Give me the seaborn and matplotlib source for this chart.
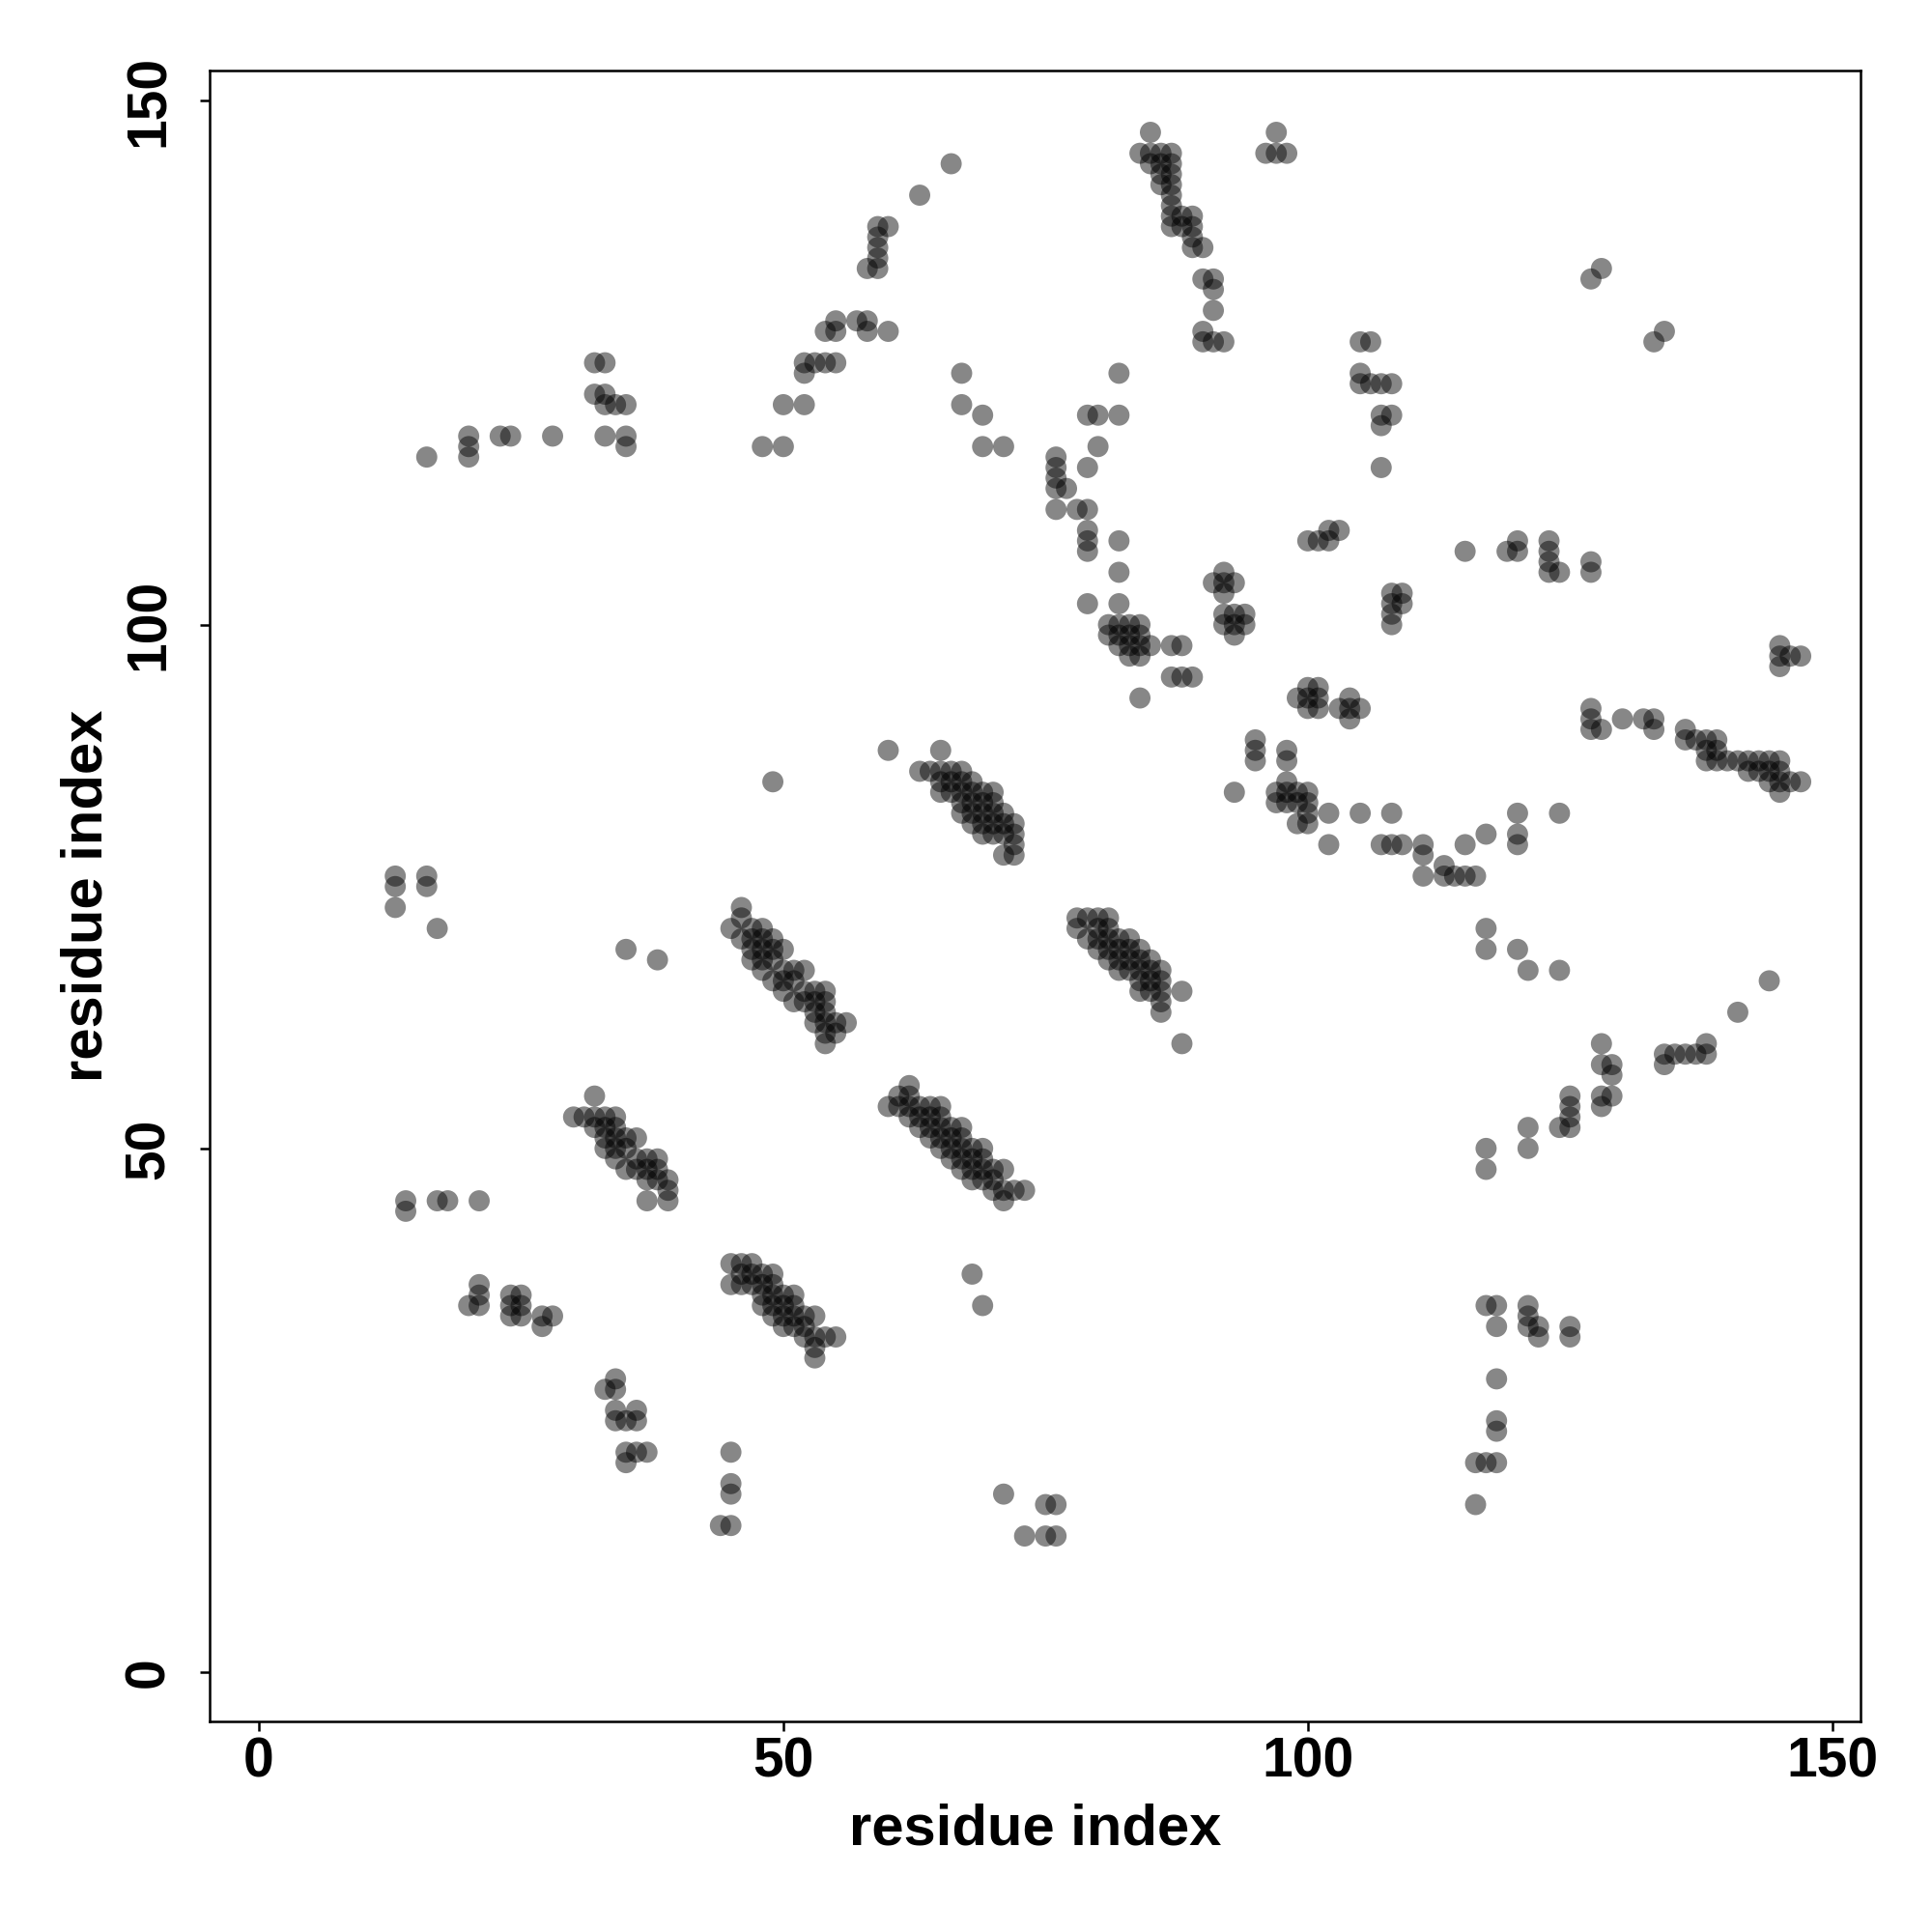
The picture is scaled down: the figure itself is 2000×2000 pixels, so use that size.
import pandas as pd
import seaborn as sns
from matplotlib import pyplot as plt

# contact pairs (residue i, residue j), grouped by region
left_pts = [(13, 76), (13, 75), (13, 73), (16, 76), (16, 75), (17, 71), (35, 69), (38, 68),
            (14, 45), (14, 44), (17, 45), (18, 45), (21, 45),
            (21, 37), (21, 36), (20, 35), (21, 35), (24, 36), (25, 36), (24, 35), (25, 35),
            (24, 34), (25, 34), (27, 34), (28, 34), (27, 33)]

lower_small = [(34, 28), (33, 27), (34, 27), (34, 25), (34, 24), (35, 24), (36, 25), (36, 24),
               (35, 21), (36, 21), (37, 21), (35, 20), (45, 21), (45, 18), (45, 17), (44, 14),
               (45, 14), (71, 17), (75, 16), (76, 16), (73, 13), (75, 13), (76, 13), (68, 38), (69, 35)]

upper_left = [(16, 116), (20, 118), (20, 117), (20, 116), (23, 118), (24, 118), (28, 118),
              (32, 125), (33, 125), (32, 122), (33, 122), (33, 121), (34, 121), (35, 121),
              (33, 118), (35, 118), (35, 117)]

upper_mid = [(48, 117), (50, 117), (50, 121), (52, 121), (52, 125), (53, 125), (54, 125), (55, 125),
             (52, 124), (54, 128), (55, 128), (55, 129), (57, 129), (58, 129), (58, 128), (60, 128),
             (58, 134), (59, 134), (59, 135), (59, 136), (59, 137), (59, 138), (60, 138), (63, 141),
             (66, 144), (67, 124), (67, 121), (69, 120), (69, 117), (71, 117)]

strand_curve = [(76, 116), (76, 115), (76, 114), (76, 113), (77, 113), (76, 111), (78, 111), (79, 111),
                (79, 109), (79, 108), (79, 107), (79, 120), (80, 120), (82, 120), (80, 117), (79, 115),
                (82, 124), (82, 108), (82, 105), (82, 102), (79, 102)]

patch_g = [(81, 100), (82, 100), (83, 100), (84, 100), (81, 99), (82, 99), (83, 99), (84, 99),
           (82, 98), (83, 98), (84, 98), (85, 98), (83, 97), (84, 97), (87, 98), (88, 98),
           (87, 95), (88, 95), (89, 95), (84, 93)]

top_cluster = [(85, 147), (84, 145), (85, 145), (86, 145), (87, 145), (85, 144), (86, 144), (87, 144),
               (86, 143), (87, 143), (86, 142), (87, 142), (87, 141), (87, 140), (87, 139), (88, 139),
               (89, 139), (87, 138), (88, 138), (89, 138), (89, 137), (89, 136), (90, 136), (90, 133),
               (91, 133), (91, 132), (91, 130), (90, 128), (90, 127), (91, 127), (92, 127),
               (96, 145), (97, 145), (98, 145), (97, 147)]

upper_right = [(105, 127), (106, 127), (105, 124), (105, 123), (106, 123), (107, 123), (108, 123),
               (107, 120), (108, 120), (107, 119), (107, 115), (100, 108), (101, 108), (102, 108),
               (102, 109), (103, 109), (115, 107), (119, 107), (120, 108), (120, 107), (123, 108),
               (123, 107), (123, 106), (123, 105), (124, 105), (127, 106), (127, 105),
               (127, 133), (128, 134), (133, 127), (134, 128)]

mid_right = [(92, 105), (91, 104), (92, 104), (93, 104), (92, 103), (92, 101), (93, 101), (94, 101),
             (92, 100), (93, 100), (94, 100), (93, 99), (108, 103), (109, 103), (108, 102), (109, 102),
             (108, 101), (108, 100)]

middle_band = [(99, 93), (100, 94), (100, 93), (101, 94), (101, 93), (100, 92), (101, 92), (104, 93),
               (103, 92), (104, 92), (105, 92), (104, 91), (95, 89), (95, 88), (95, 87), (98, 88),
               (98, 87), (93, 84), (98, 85), (97, 84), (98, 84), (99, 84), (100, 84), (97, 83),
               (98, 83), (99, 83), (100, 83), (100, 82), (99, 81), (100, 81), (102, 82), (105, 82),
               (108, 82), (102, 79), (107, 79), (108, 79), (109, 79), (111, 79), (111, 78), (111, 76),
               (113, 77), (113, 76), (114, 76), (115, 76), (116, 76), (115, 79), (117, 80), (120, 82),
               (124, 82), (120, 80), (120, 79)]

right_band = [(127, 92), (127, 91), (127, 90), (128, 90), (130, 91), (132, 91), (133, 91), (133, 90),
              (136, 90), (136, 89), (137, 89), (138, 89), (139, 89), (138, 88), (139, 88), (138, 87),
              (139, 87), (140, 87), (141, 87), (142, 87), (143, 87), (144, 87), (145, 87), (142, 86),
              (143, 86), (144, 86), (145, 86), (144, 85), (145, 85), (146, 85), (147, 85), (145, 84),
              (145, 98), (145, 97), (146, 97), (147, 97), (145, 96)]

lower_right = [(117, 71), (117, 69), (120, 69), (121, 67), (124, 67), (144, 66), (141, 63), (128, 60),
               (128, 58), (129, 58), (129, 57), (128, 55), (129, 55), (128, 54), (125, 55), (125, 54),
               (125, 53), (125, 52), (124, 52), (121, 52), (121, 50), (117, 50), (117, 48),
               (134, 59), (134, 58), (135, 59), (136, 59), (137, 59), (138, 59), (138, 60),
               (117, 35), (118, 35), (118, 33), (121, 35), (121, 34), (121, 33), (122, 33), (122, 32),
               (125, 33), (125, 32), (118, 28), (118, 24), (118, 23), (116, 20), (117, 20), (118, 20),
               (116, 16)]

sheet_a = [(46, 73), (45, 71), (46, 72), (47, 71), (48, 71), (46, 70), (47, 70), (48, 70), (49, 70),
           (47, 69), (48, 69), (49, 69), (50, 69), (47, 68), (48, 68), (49, 68), (48, 67), (50, 67),
           (51, 67), (52, 67), (49, 66), (50, 66), (51, 66), (50, 65), (52, 65), (53, 65), (54, 65),
           (51, 64), (52, 64), (53, 64), (54, 64), (53, 63), (54, 63), (53, 62), (54, 62), (55, 62),
           (56, 62), (54, 61), (55, 61), (54, 60)]

sheet_b = [(49, 85), (60, 88), (65, 88), (63, 86), (64, 86), (65, 86), (66, 86), (67, 86), (65, 85),
           (66, 85), (67, 85), (68, 85), (65, 84), (66, 84), (67, 84), (68, 84), (69, 84), (70, 84),
           (67, 83), (68, 83), (69, 83), (70, 83), (67, 82), (68, 82), (69, 82), (70, 82), (71, 82),
           (68, 81), (69, 81), (70, 81), (71, 81), (72, 81), (69, 80), (70, 80), (71, 80), (72, 80),
           (72, 79), (71, 78), (72, 78)]

sheet_c = [(32, 55), (30, 53), (31, 53), (32, 53), (33, 53), (34, 53), (32, 52), (33, 52), (34, 52),
           (33, 51), (34, 51), (35, 51), (36, 51), (33, 50), (34, 50), (35, 50), (34, 49), (36, 49),
           (37, 49), (38, 49), (35, 48), (36, 48), (37, 48), (38, 48), (37, 47), (38, 47), (39, 47),
           (39, 46), (37, 45), (39, 45)]

sheet_d = [(45, 39), (46, 39), (47, 39), (46, 38), (47, 38), (48, 38), (49, 38), (45, 37), (46, 37),
           (47, 37), (48, 37), (49, 37), (48, 36), (49, 36), (50, 36), (51, 36), (48, 35), (49, 35),
           (50, 35), (51, 35), (49, 34), (50, 34), (51, 34), (52, 34), (53, 34), (50, 33), (51, 33),
           (52, 33), (52, 32), (53, 32), (54, 32), (55, 32), (53, 31), (53, 30)]

sheet_e = [(62, 56), (61, 55), (62, 55), (60, 54), (61, 54), (62, 54), (63, 54), (64, 54), (65, 54),
           (62, 53), (63, 53), (64, 53), (65, 53), (63, 52), (64, 52), (65, 52), (66, 52), (67, 52),
           (64, 51), (65, 51), (66, 51), (67, 51), (65, 50), (66, 50), (67, 50), (68, 50), (69, 50),
           (66, 49), (67, 49), (68, 49), (69, 49), (67, 48), (68, 48), (69, 48), (70, 48), (71, 48),
           (68, 47), (69, 47), (70, 47), (70, 46), (71, 46), (72, 46), (73, 46), (71, 45)]

sheet_f = [(78, 72), (79, 72), (80, 72), (81, 72), (78, 71), (80, 71), (81, 71), (79, 70), (80, 70),
           (81, 70), (82, 70), (83, 70), (80, 69), (81, 69), (82, 69), (83, 69), (84, 69), (81, 68),
           (82, 68), (83, 68), (84, 68), (85, 68), (82, 67), (83, 67), (84, 67), (85, 67), (86, 67),
           (84, 66), (85, 66), (86, 66), (84, 65), (85, 65), (86, 65), (88, 65), (86, 64), (86, 63),
           (88, 60)]

groups = [left_pts, lower_small, upper_left, upper_mid, strand_curve, patch_g, top_cluster,
          upper_right, mid_right, middle_band, right_band, lower_right,
          sheet_a, sheet_b, sheet_c, sheet_d, sheet_e, sheet_f]
pairs = [p for g in groups for p in g]
df = pd.DataFrame(pairs, columns=["i", "j"])

sns.set_style("white")
plt.rcParams["font.family"] = ["Liberation Sans", "DejaVu Sans"]
plt.rcParams["text.color"] = "black"
plt.rcParams["axes.labelcolor"] = "black"
plt.rcParams["xtick.color"] = "black"
plt.rcParams["ytick.color"] = "black"

fig = plt.figure(figsize=(10, 10), dpi=200)
ax = fig.add_axes([0.1085, 0.109, 0.8545, 0.8545])

sns.scatterplot(data=df, x="i", y="j", color="black", alpha=0.47, s=62,
                linewidth=0, edgecolor="none", ax=ax, legend=False)

ax.set_xlim(-4.7, 152.7)
ax.set_ylim(-4.7, 152.9)
ax.set_xticks([0, 50, 100, 150])
ax.set_yticks([0, 50, 100, 150])
ax.tick_params(axis="both", direction="out", length=3.6, width=0.9, labelsize=20.5,
               bottom=True, left=True, color="black", labelcolor="black")
ax.tick_params(axis="x", pad=2)
ax.tick_params(axis="y", pad=9.2)
for lab in ax.get_xticklabels():
    lab.set_fontweight("bold")
for lab in ax.get_yticklabels():
    lab.set_fontweight("bold")
    lab.set_rotation(90)
    lab.set_va("center")

for sp in ax.spines.values():
    sp.set_visible(True)
    sp.set_color("black")
    sp.set_linewidth(0.9)

ax.set_xlabel("residue index", fontsize=21.5, fontweight="bold", labelpad=5.5, color="black")
ax.set_ylabel("residue index", fontsize=21.5, fontweight="bold", labelpad=3.5, color="black")

plt.savefig("out.png", dpi=200)
plt.close()
